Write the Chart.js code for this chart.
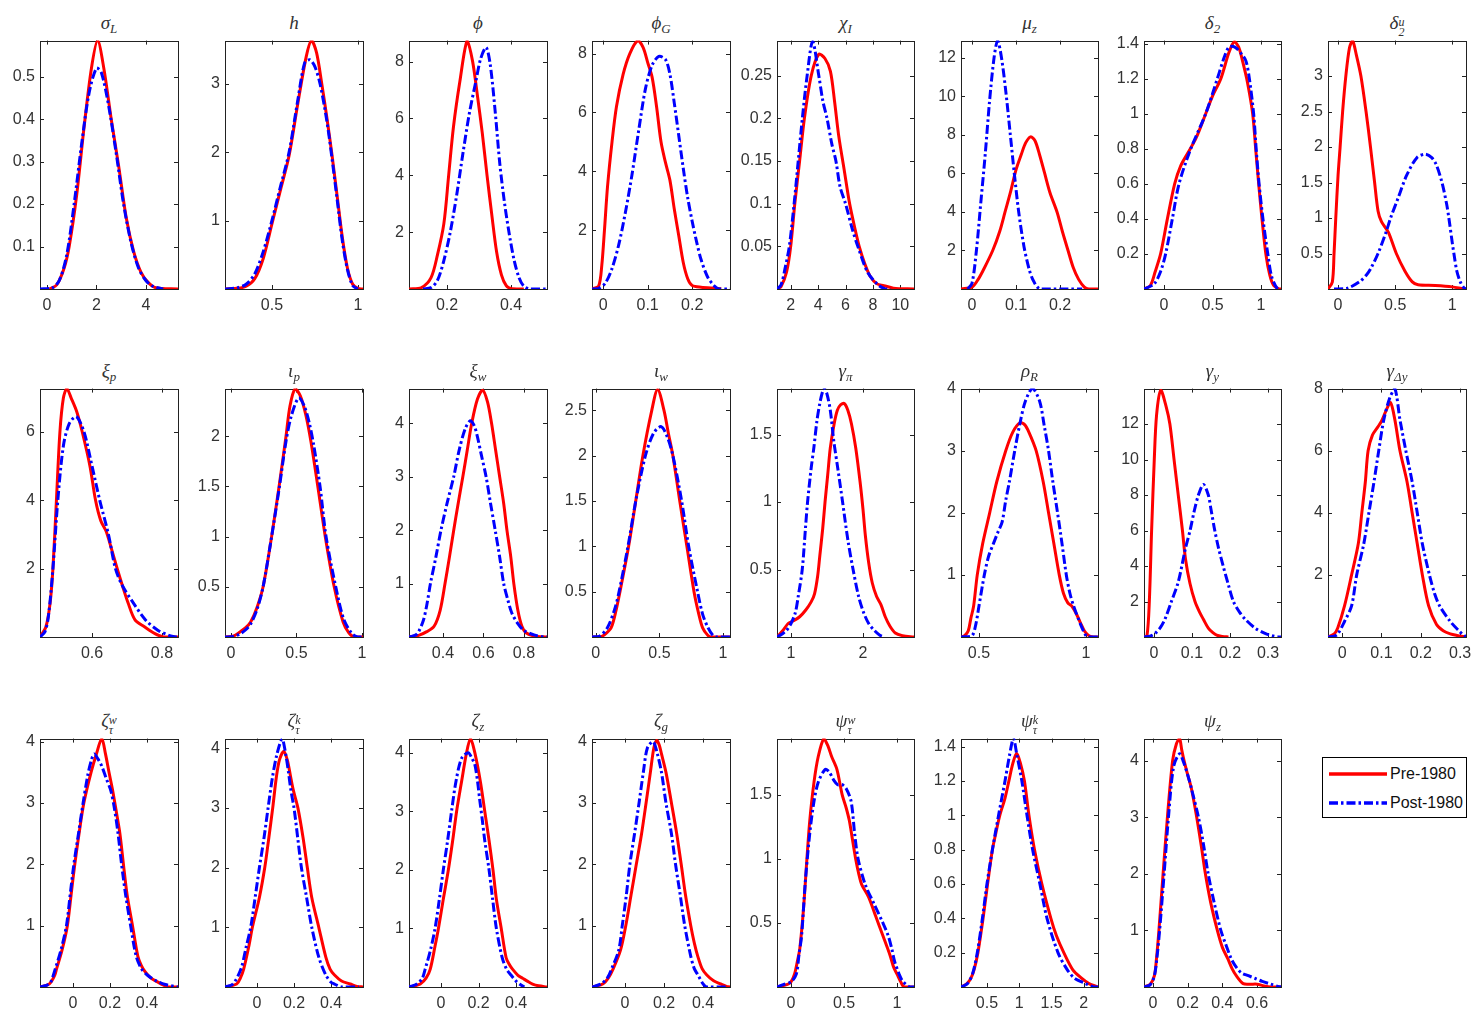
<!DOCTYPE html>
<html>
<head>
<meta charset="utf-8">
<script src="https://cdn.jsdelivr.net/npm/chart.js@4.4.1/dist/chart.umd.min.js"></script>
<style>
body { margin: 0; background: #fff; width: 1472px; height: 1016px; position: relative; overflow: hidden; }
.cell { position: absolute; }
.ttl { position: absolute; font-family: "Liberation Serif", "DejaVu Serif", serif; font-style: italic; font-size: 19px; color: #333; text-align: center; white-space: nowrap; line-height: 19px; }
.ttl sub { font-size: 13px; vertical-align: -4px; line-height: 0; }
.ss { display: inline-block; font-size: 12px; line-height: 10px; vertical-align: -7px; text-align: left; }
.ss span { display: block; }
#legend { position: absolute; left: 1322px; top: 757px; width: 143px; height: 59px; border: 1px solid #000; background: #fff; font-family: "Liberation Sans", Arial, sans-serif; font-size: 16px; color: #111; }
#legend svg { position: absolute; left: 6px; }
#legend span { position: absolute; left: 67px; line-height: 18px; }
</style>
</head>
<body>
<div id="legend">
  <svg style="top:13px" width="58" height="6"><line x1="0" y1="3" x2="58" y2="3" stroke="#f00" stroke-width="3.5"/></svg>
  <span style="top:7px">Pre-1980</span>
  <svg style="top:42px" width="58" height="6"><line x1="0" y1="3" x2="58" y2="3" stroke="#00f" stroke-width="3.5" stroke-dasharray="9,3,2.5,3"/></svg>
  <span style="top:36px">Post-1980</span>
</div>
<script>
// posterior densities, [x, y]; "pre" = Pre-1980, "post" = Post-1980
const sigL_pre = [[0.1,0],[0.4,0.01],[0.7,0.05],[0.9,0.1],[1.2,0.22],[1.5,0.38],[1.8,0.52],[2.05,0.585],[2.3,0.52],[2.6,0.4],[2.9,0.29],[3.2,0.17],[3.5,0.09],[3.8,0.04],[4.1,0.015],[4.4,0.003],[5.3,0]];
const sigL_post = [[-0.28,0],[0.2,0.002],[0.5,0.02],[0.8,0.08],[1.1,0.2],[1.4,0.34],[1.7,0.46],[2.0,0.52],[2.2,0.51],[2.5,0.43],[2.8,0.32],[3.1,0.2],[3.4,0.11],[3.7,0.05],[4.0,0.02],[4.3,0.006],[4.7,0]];
const sigL_xt = [0, 2, 4], sigL_yt = [0.1, 0.2, 0.3, 0.4, 0.5];

const h_pre = [[0.227,0],[0.3,0.01],[0.35,0.04],[0.4,0.15],[0.45,0.45],[0.5,0.95],[0.55,1.45],[0.6,1.95],[0.65,2.7],[0.7,3.4],[0.73,3.63],[0.76,3.45],[0.79,3.0],[0.82,2.5],[0.85,1.95],[0.88,1.35],[0.91,0.75],[0.94,0.3],[0.97,0.07],[1.0,0.01],[1.03,0]];
const h_post = [[0.227,0],[0.3,0.02],[0.35,0.07],[0.4,0.22],[0.45,0.55],[0.5,1.0],[0.55,1.5],[0.6,2.0],[0.65,2.75],[0.69,3.3],[0.72,3.35],[0.75,3.25],[0.78,3.0],[0.82,2.45],[0.85,1.9],[0.88,1.3],[0.91,0.7],[0.94,0.28],[0.97,0.05],[1.0,0]];
const h_xt = [0.5, 1], h_yt = [1, 2, 3];

const phi_pre = [[0.081,0],[0.12,0.05],[0.15,0.4],[0.17,1.2],[0.19,2.3],[0.205,4.0],[0.22,5.7],[0.24,7.3],[0.263,8.74],[0.28,8.0],[0.295,6.8],[0.31,5.5],[0.325,4.0],[0.34,2.6],[0.355,1.3],[0.37,0.5],[0.385,0.12],[0.4,0.02],[0.44,0]];
const phi_post = [[0.125,0],[0.15,0.05],[0.17,0.3],[0.19,1.0],[0.21,2.0],[0.23,3.3],[0.25,4.8],[0.27,6.2],[0.29,7.3],[0.305,8.1],[0.322,8.5],[0.335,7.9],[0.35,6.3],[0.365,4.4],[0.38,3.0],[0.395,1.9],[0.41,1.0],[0.425,0.4],[0.44,0.1],[0.46,0],[0.5125,0]];
const phi_xt = [0.2, 0.4], phi_yt = [2, 4, 6, 8];

const phiG_pre = [[-0.025,0],[-0.01,0.1],[-0.003,0.8],[0.003,2.0],[0.01,3.5],[0.02,5.0],[0.03,6.2],[0.045,7.3],[0.06,8.0],[0.078,8.44],[0.09,8.2],[0.1,7.7],[0.11,7.2],[0.12,6.2],[0.13,5.0],[0.14,4.3],[0.15,3.7],[0.16,2.7],[0.17,1.8],[0.18,0.9],[0.19,0.35],[0.2,0.12],[0.22,0.06],[0.26,0.02],[0.265,0]];
const phiG_post = [[-0.025,0],[-0.01,0.02],[0.005,0.2],[0.02,0.7],[0.035,1.5],[0.05,2.6],[0.065,3.9],[0.08,5.4],[0.095,6.8],[0.11,7.6],[0.125,7.9],[0.14,7.8],[0.15,7.3],[0.16,6.3],[0.17,5.2],[0.18,4.1],[0.19,3.1],[0.2,2.3],[0.21,1.6],[0.22,1.0],[0.235,0.4],[0.25,0.1],[0.26,0],[0.285,0]];
const phiG_xt = [0, 0.1, 0.2], phiG_yt = [2, 4, 6, 8];

const chiI_pre = [[1,0],[1.3,0.003],[1.7,0.02],[2.0,0.05],[2.3,0.1],[2.65,0.15],[3.0,0.2],[3.5,0.25],[4.05,0.275],[4.5,0.27],[4.9,0.255],[5.2,0.22],[5.5,0.18],[5.9,0.14],[6.3,0.1],[6.7,0.07],[7.0,0.05],[7.4,0.03],[7.8,0.015],[8.3,0.006],[8.8,0.004],[9.5,0.001],[11,0]];
const chiI_post = [[1,0],[1.3,0.005],[1.6,0.025],[1.9,0.05],[2.25,0.1],[2.55,0.15],[2.85,0.2],[3.2,0.25],[3.6,0.29],[4.05,0.25],[4.35,0.22],[4.65,0.2],[5.0,0.17],[5.3,0.15],[5.6,0.12],[6.0,0.1],[6.5,0.07],[6.9,0.05],[7.6,0.02],[8.3,0.006],[8.9,0],[9.3,0]];
const chiI_xt = [2, 4, 6, 8, 10], chiI_yt = [0.05, 0.1, 0.15, 0.2, 0.25];

const muZ_pre = [[-0.025,0],[0,0.1],[0.014,0.5],[0.026,1.0],[0.047,2.0],[0.063,3.0],[0.075,4.0],[0.087,5.0],[0.1,6.2],[0.112,7.0],[0.122,7.6],[0.133,7.9],[0.143,7.7],[0.153,7.0],[0.165,6.0],[0.177,5.0],[0.193,4.0],[0.205,3.0],[0.218,2.0],[0.23,1.1],[0.242,0.5],[0.255,0.1],[0.265,0],[0.286,0]];
const muZ_post = [[-0.01,0],[0,0.3],[0.01,2.0],[0.02,4.5],[0.03,7.0],[0.04,9.8],[0.05,12.0],[0.058,12.9],[0.067,12.0],[0.077,10.2],[0.087,8.0],[0.096,6.0],[0.106,4.0],[0.118,2.2],[0.13,1.0],[0.14,0.4],[0.155,0],[0.25,0]];
const muZ_xt = [0, 0.1, 0.2], muZ_yt = [2, 4, 6, 8, 10, 12];

const del2_pre = [[-0.206,0],[-0.14,0.02],[-0.09,0.1],[-0.035,0.2],[0.035,0.4],[0.11,0.6],[0.17,0.7],[0.25,0.78],[0.33,0.86],[0.43,1.0],[0.5,1.1],[0.586,1.2],[0.67,1.35],[0.724,1.41],[0.77,1.38],[0.81,1.3],[0.86,1.18],[0.914,1.0],[0.945,0.8],[0.976,0.6],[1.01,0.4],[1.05,0.2],[1.09,0.08],[1.13,0.02],[1.19,0],[1.206,0]];
const del2_post = [[-0.206,0],[-0.1,0.03],[-0.035,0.1],[0.017,0.2],[0.086,0.4],[0.155,0.6],[0.276,0.8],[0.43,1.0],[0.55,1.2],[0.62,1.32],[0.67,1.38],[0.73,1.38],[0.8,1.34],[0.845,1.3],[0.88,1.2],[0.924,1.0],[0.95,0.8],[0.98,0.6],[1.02,0.4],[1.07,0.2],[1.11,0.07],[1.17,0],[1.206,0]];
const del2_xt = [0, 0.5, 1], del2_yt = [0.2, 0.4, 0.6, 0.8, 1, 1.2, 1.4];

const del2u_pre = [[-0.088,0],[-0.05,0.1],[-0.035,0.5],[-0.02,1.0],[0,1.6],[0.018,2.0],[0.04,2.5],[0.068,3.0],[0.1,3.4],[0.127,3.5],[0.16,3.3],[0.2,3.0],[0.245,2.5],[0.284,2.0],[0.32,1.5],[0.35,1.1],[0.38,0.95],[0.44,0.8],[0.51,0.5],[0.586,0.25],[0.65,0.1],[0.7,0.06],[0.85,0.05],[1.0,0.03],[1.1,0],[1.12,0]];
const del2u_post = [[-0.035,0],[0.08,0.01],[0.186,0.1],[0.25,0.2],[0.29,0.3],[0.35,0.5],[0.42,0.8],[0.46,1.0],[0.53,1.3],[0.6,1.6],[0.69,1.85],[0.763,1.9],[0.82,1.85],[0.86,1.75],[0.91,1.5],[0.95,1.2],[0.97,1.0],[1.0,0.65],[1.014,0.5],[1.04,0.25],[1.07,0.1],[1.1,0.02],[1.12,0]];
const del2u_xt = [0, 0.5, 1], del2u_yt = [0.5, 1, 1.5, 2, 2.5, 3];

const xiP_pre = [[0.451,0],[0.468,0.3],[0.48,1.0],[0.488,2.0],[0.498,4.0],[0.508,6.0],[0.518,7.0],[0.528,7.27],[0.54,7.0],[0.556,6.6],[0.572,6.0],[0.594,5.0],[0.61,4.0],[0.625,3.4],[0.64,3.1],[0.655,2.6],[0.672,2.0],[0.687,1.5],[0.703,1.0],[0.723,0.5],[0.75,0.3],[0.78,0.1],[0.805,0],[0.846,0]];
const xiP_post = [[0.451,0],[0.465,0.15],[0.475,0.6],[0.488,2.0],[0.502,4.0],[0.518,5.6],[0.535,6.25],[0.555,6.45],[0.577,6.0],[0.6,5.0],[0.622,4.0],[0.647,3.0],[0.667,2.0],[0.687,1.5],[0.718,1.0],[0.753,0.5],[0.788,0.2],[0.82,0.05],[0.84,0],[0.846,0]];
const xiP_xt = [0.6, 0.8], xiP_yt = [2, 4, 6];

const iotaP_pre = [[-0.046,0],[0.02,0.01],[0.068,0.05],[0.11,0.09],[0.15,0.15],[0.2,0.3],[0.245,0.5],[0.31,1.0],[0.367,1.5],[0.42,2.0],[0.45,2.3],[0.49,2.475],[0.53,2.4],[0.57,2.22],[0.61,1.95],[0.663,1.5],[0.72,1.0],[0.788,0.5],[0.856,0.15],[0.9,0.04],[0.94,0],[1.008,0]];
const iotaP_post = [[-0.046,0],[0.02,0.005],[0.068,0.03],[0.11,0.07],[0.15,0.13],[0.2,0.28],[0.245,0.5],[0.31,1.0],[0.37,1.5],[0.42,1.95],[0.46,2.2],[0.516,2.38],[0.56,2.3],[0.6,2.12],[0.633,1.9],[0.68,1.5],[0.726,1.0],[0.8,0.5],[0.86,0.18],[0.92,0.04],[0.965,0],[1.008,0]];
const iotaP_xt = [0, 0.5, 1], iotaP_yt = [0.5, 1, 1.5, 2];

const xiW_pre = [[0.232,0],[0.28,0.03],[0.32,0.1],[0.356,0.2],[0.386,0.5],[0.41,1.0],[0.432,1.5],[0.453,2.0],[0.475,2.5],[0.498,3.0],[0.52,3.5],[0.542,4.0],[0.57,4.45],[0.596,4.62],[0.62,4.4],[0.64,4.0],[0.66,3.5],[0.68,3.0],[0.7,2.5],[0.716,2.0],[0.735,1.5],[0.75,1.0],[0.77,0.5],[0.79,0.2],[0.81,0.08],[0.85,0.02],[0.914,0]];
const xiW_post = [[0.232,0],[0.27,0.05],[0.302,0.3],[0.32,0.6],[0.338,1.0],[0.365,1.5],[0.39,2.0],[0.42,2.5],[0.453,3.0],[0.48,3.5],[0.51,3.9],[0.535,4.05],[0.555,3.95],[0.57,3.75],[0.59,3.4],[0.613,3.0],[0.635,2.5],[0.658,2.0],[0.68,1.5],[0.7,1.0],[0.72,0.7],[0.74,0.45],[0.77,0.25],[0.8,0.12],[0.85,0.04],[0.9,0],[0.914,0]];
const xiW_xt = [0.4, 0.6, 0.8], xiW_yt = [1, 2, 3, 4];

const iotaW_pre = [[-0.03,0],[0.03,0],[0.064,0.02],[0.12,0.1],[0.16,0.3],[0.19,0.5],[0.258,1.0],[0.314,1.5],[0.37,2.0],[0.44,2.5],[0.486,2.73],[0.536,2.5],[0.57,2.25],[0.606,2.0],[0.66,1.5],[0.716,1.0],[0.772,0.5],[0.81,0.25],[0.84,0.1],[0.88,0.02],[0.91,0],[1.055,0]];
const iotaW_post = [[-0.03,0],[0.03,0.01],[0.09,0.1],[0.147,0.3],[0.183,0.5],[0.253,1.0],[0.314,1.5],[0.39,2.0],[0.455,2.25],[0.514,2.32],[0.564,2.2],[0.606,2.0],[0.675,1.5],[0.73,1.0],[0.8,0.5],[0.84,0.25],[0.883,0.1],[0.92,0.02],[0.95,0],[1.055,0]];
const iotaW_xt = [0, 0.5, 1], iotaW_yt = [0.5, 1, 1.5, 2, 2.5];

const gPi_pre = [[0.805,0],[0.89,0.05],[0.96,0.1],[1.034,0.12],[1.12,0.15],[1.205,0.2],[1.28,0.26],[1.327,0.32],[1.37,0.45],[1.4,0.6],[1.44,0.8],[1.473,1.0],[1.51,1.2],[1.546,1.4],[1.6,1.58],[1.644,1.68],[1.69,1.72],[1.74,1.73],[1.79,1.68],[1.84,1.58],[1.9,1.4],[1.96,1.15],[2.0,0.95],[2.034,0.75],[2.08,0.55],[2.13,0.4],[2.19,0.3],[2.25,0.24],[2.31,0.15],[2.376,0.08],[2.45,0.03],[2.55,0.01],[2.71,0]];
const gPi_post = [[0.805,0],[0.87,0.02],[0.94,0.05],[1.0,0.1],[1.06,0.18],[1.1,0.3],[1.156,0.5],[1.2,0.8],[1.23,1.0],[1.28,1.25],[1.317,1.4],[1.36,1.6],[1.4,1.73],[1.44,1.82],[1.463,1.84],[1.5,1.8],[1.546,1.68],[1.595,1.45],[1.65,1.25],[1.717,1.0],[1.79,0.72],[1.863,0.5],[1.94,0.3],[2.01,0.18],[2.08,0.1],[2.156,0.05],[2.23,0.015],[2.3,0]];
const gPi_xt = [1, 2], gPi_yt = [0.5, 1, 1.5];

const rhoR_pre = [[0.416,0],[0.433,0.02],[0.45,0.1],[0.462,0.3],[0.475,0.5],[0.492,1.0],[0.517,1.5],[0.55,2.0],[0.583,2.5],[0.625,3.0],[0.658,3.3],[0.692,3.45],[0.713,3.42],[0.733,3.3],[0.767,3.0],[0.8,2.5],[0.825,2.0],[0.85,1.5],[0.875,1.0],[0.895,0.7],[0.915,0.55],[0.933,0.5],[0.958,0.35],[0.975,0.22],[0.992,0.1],[1.01,0.03],[1.033,0],[1.056,0]];
const rhoR_post = [[0.416,0],[0.467,0.02],[0.485,0.2],[0.5,0.5],[0.525,1.0],[0.545,1.3],[0.567,1.5],[0.59,1.7],[0.608,1.85],[0.625,2.2],[0.642,2.5],[0.667,3.0],[0.692,3.45],[0.717,3.8],[0.75,4.0],[0.783,3.8],[0.805,3.4],[0.825,3.0],[0.845,2.5],[0.867,2.0],[0.888,1.5],[0.908,1.0],[0.925,0.7],[0.942,0.5],[0.975,0.2],[0.995,0.05],[1.008,0],[1.056,0]];
const rhoR_xt = [0.5, 1], rhoR_yt = [1, 2, 3, 4];

const gY_pre = [[-0.026,0],[-0.018,0.1],[-0.012,2.0],[-0.006,6.0],[0.001,10.0],[0.007,12.5],[0.018,13.9],[0.032,13.0],[0.042,12.0],[0.053,10.0],[0.064,8.0],[0.075,6.0],[0.083,4.4],[0.095,3.0],[0.108,2.0],[0.12,1.4],[0.13,1.0],[0.143,0.5],[0.155,0.25],[0.165,0.1],[0.18,0.03],[0.196,0]];
const gY_post = [[-0.026,0],[-0.01,0.05],[0.003,0.2],[0.016,0.5],[0.029,1.0],[0.046,2.0],[0.064,3.1],[0.083,5.0],[0.095,6.0],[0.106,7.1],[0.117,8.0],[0.13,8.6],[0.143,8.0],[0.15,7.2],[0.16,6.0],[0.17,5.0],[0.182,4.0],[0.195,3.0],[0.209,2.0],[0.225,1.4],[0.24,1.0],[0.266,0.5],[0.292,0.2],[0.31,0.08],[0.327,0],[0.334,0]];
const gY_xt = [0, 0.1, 0.2, 0.3], gY_yt = [2, 4, 6, 8, 10, 12];

const gDY_pre = [[-0.036,0],[-0.02,0.1],[-0.011,0.3],[0.006,1.0],[0.024,2.0],[0.041,3.0],[0.05,4.0],[0.059,5.0],[0.066,6.0],[0.077,6.5],[0.09,6.75],[0.1,6.95],[0.112,7.3],[0.123,7.55],[0.134,7.0],[0.147,6.0],[0.165,5.0],[0.178,4.0],[0.191,3.0],[0.204,2.0],[0.22,1.0],[0.24,0.4],[0.257,0.2],[0.275,0.1],[0.292,0.05],[0.315,0]];
const gDY_post = [[-0.036,0],[-0.02,0.03],[-0.011,0.1],[0.006,0.5],[0.024,1.0],[0.037,2.0],[0.055,3.0],[0.068,4.0],[0.081,5.0],[0.093,6.0],[0.106,7.0],[0.121,7.7],[0.134,8.0],[0.147,7.0],[0.162,6.0],[0.178,5.0],[0.191,4.0],[0.204,3.0],[0.222,2.0],[0.235,1.4],[0.248,1.0],[0.275,0.5],[0.297,0.2],[0.31,0.05],[0.315,0.02]];
const gDY_xt = [0, 0.1, 0.2, 0.3], gDY_yt = [2, 4, 6, 8];

const zTw_pre = [[-0.178,0],[-0.127,0.05],[-0.1,0.18],[-0.088,0.3],[-0.059,0.6],[-0.03,1.0],[-0.01,1.5],[0.01,2.0],[0.033,2.5],[0.059,3.0],[0.098,3.5],[0.127,3.8],[0.156,4.05],[0.176,3.8],[0.195,3.5],[0.215,3.2],[0.235,2.85],[0.254,2.5],[0.273,2.0],[0.293,1.5],[0.322,1.0],[0.351,0.5],[0.37,0.35],[0.39,0.25],[0.42,0.15],[0.459,0.08],[0.49,0.03],[0.517,0],[0.568,0]];
const zTw_post = [[-0.178,0],[-0.14,0.03],[-0.12,0.08],[-0.095,0.3],[-0.065,0.6],[-0.035,1.0],[-0.015,1.5],[0.005,2.0],[0.03,2.5],[0.055,3.0],[0.08,3.45],[0.1,3.7],[0.115,3.8],[0.135,3.72],[0.156,3.6],[0.18,3.4],[0.205,3.2],[0.225,2.9],[0.244,2.5],[0.263,2.0],[0.285,1.5],[0.312,1.0],[0.342,0.5],[0.37,0.3],[0.4,0.2],[0.45,0.1],[0.5,0.04],[0.55,0.01],[0.568,0]];
const zTw_xt = [0, 0.2, 0.4], zTw_yt = [1, 2, 3, 4];

const zTk_pre = [[-0.173,0],[-0.11,0.05],[-0.09,0.15],[-0.072,0.3],[-0.043,0.7],[-0.025,1.0],[0.013,1.5],[0.042,2.0],[0.064,2.5],[0.085,3.0],[0.104,3.5],[0.121,3.8],[0.145,3.95],[0.164,3.8],[0.18,3.55],[0.196,3.3],[0.221,3.0],[0.249,2.5],[0.272,2.0],[0.296,1.5],[0.334,1.0],[0.372,0.5],[0.395,0.3],[0.419,0.2],[0.457,0.1],[0.504,0.05],[0.54,0.01],[0.573,0]];
const zTk_post = [[-0.173,0],[-0.13,0.05],[-0.087,0.3],[-0.06,0.65],[-0.034,1.0],[-0.01,1.5],[0.013,2.0],[0.038,2.5],[0.06,3.0],[0.083,3.5],[0.108,3.9],[0.136,4.15],[0.155,3.9],[0.17,3.6],[0.183,3.3],[0.2,3.0],[0.22,2.5],[0.24,2.0],[0.268,1.5],[0.296,1.0],[0.334,0.5],[0.372,0.2],[0.4,0.08],[0.419,0.05],[0.457,0],[0.55,0]];
const zTk_xt = [0, 0.2, 0.4], zTk_yt = [1, 2, 3, 4];

const zZ_pre = [[-0.171,0],[-0.14,0.02],[-0.111,0.05],[-0.08,0.15],[-0.058,0.3],[-0.032,0.7],[-0.014,1.0],[0.012,1.5],[0.039,2.0],[0.062,2.5],[0.083,3.0],[0.109,3.5],[0.136,4.0],[0.157,4.24],[0.18,4.0],[0.21,3.5],[0.233,3.0],[0.256,2.5],[0.277,2.0],[0.295,1.5],[0.321,1.0],[0.347,0.5],[0.365,0.38],[0.382,0.3],[0.41,0.2],[0.435,0.15],[0.46,0.1],[0.488,0.05],[0.52,0.02],[0.565,0]];
const zZ_post = [[-0.171,0],[-0.129,0.05],[-0.1,0.15],[-0.085,0.3],[-0.055,0.65],[-0.032,1.0],[-0.009,1.5],[0.012,2.0],[0.035,2.5],[0.056,3.0],[0.079,3.5],[0.109,3.9],[0.145,4.0],[0.165,3.9],[0.18,3.8],[0.195,3.5],[0.206,3.2],[0.22,2.85],[0.233,2.5],[0.256,2.0],[0.275,1.5],[0.295,1.0],[0.326,0.5],[0.35,0.3],[0.374,0.2],[0.4,0.1],[0.418,0.05],[0.444,0]];
const zZ_xt = [0, 0.2, 0.4], zZ_yt = [1, 2, 3, 4];

const zG_pre = [[-0.169,0],[-0.114,0.05],[-0.085,0.15],[-0.06,0.3],[-0.023,0.6],[0.004,1.0],[0.031,1.5],[0.058,2.0],[0.085,2.5],[0.108,3.0],[0.13,3.5],[0.148,3.9],[0.162,4.02],[0.175,3.95],[0.187,3.8],[0.21,3.5],[0.238,3.0],[0.265,2.5],[0.288,2.0],[0.31,1.5],[0.337,1.0],[0.355,0.72],[0.373,0.5],[0.395,0.3],[0.418,0.2],[0.454,0.1],[0.49,0.05],[0.52,0.01],[0.538,0]];
const zG_post = [[-0.169,0],[-0.123,0.05],[-0.09,0.15],[-0.068,0.3],[-0.032,0.6],[-0.014,1.0],[0.007,1.5],[0.025,2.0],[0.049,2.5],[0.072,3.0],[0.094,3.5],[0.115,3.9],[0.144,4.0],[0.166,3.8],[0.187,3.5],[0.21,3.0],[0.238,2.5],[0.259,2.0],[0.283,1.5],[0.306,1.0],[0.337,0.5],[0.355,0.3],[0.373,0.2],[0.4,0.05],[0.418,0],[0.52,0]];
const zG_xt = [0, 0.2, 0.4], zG_yt = [1, 2, 3, 4];

const psiTw_pre = [[-0.132,0],[-0.033,0.02],[0,0.04],[0.033,0.1],[0.06,0.2],[0.083,0.3],[0.117,0.6],[0.15,1.0],[0.177,1.3],[0.217,1.6],[0.257,1.8],[0.31,1.94],[0.35,1.88],[0.383,1.8],[0.433,1.7],[0.483,1.5],[0.52,1.4],[0.55,1.3],[0.58,1.15],[0.61,1.0],[0.64,0.88],[0.667,0.8],[0.733,0.7],[0.8,0.55],[0.867,0.4],[0.933,0.25],[0.97,0.15],[1.0,0.1],[1.035,0.04],[1.067,0],[1.16,0]];
const psiTw_post = [[-0.132,0],[-0.067,0.02],[0,0.04],[0.05,0.1],[0.075,0.25],[0.1,0.4],[0.133,0.8],[0.177,1.2],[0.217,1.45],[0.257,1.6],[0.323,1.7],[0.36,1.68],[0.4,1.62],[0.44,1.58],[0.483,1.58],[0.52,1.55],[0.567,1.45],[0.6,1.2],[0.633,1.0],[0.7,0.8],[0.783,0.65],[0.867,0.5],[0.917,0.4],[0.95,0.3],[0.977,0.2],[1.02,0.1],[1.05,0.05],[1.117,0],[1.16,0]];
const psiTw_xt = [0, 0.5, 1], psiTw_yt = [0.5, 1, 1.5];

const psiTk_pre = [[0.098,0],[0.19,0.02],[0.25,0.05],[0.3,0.1],[0.36,0.2],[0.44,0.4],[0.51,0.6],[0.585,0.8],[0.64,0.9],[0.7,1.0],[0.78,1.1],[0.84,1.2],[0.9,1.3],[0.96,1.36],[1.02,1.3],[1.08,1.2],[1.15,1.0],[1.236,0.8],[1.35,0.6],[1.49,0.4],[1.575,0.3],[1.69,0.2],[1.83,0.1],[1.97,0.05],[2.08,0.02],[2.22,0]];
const psiTk_post = [[0.098,0],[0.2,0.02],[0.28,0.08],[0.35,0.2],[0.43,0.4],[0.5,0.6],[0.585,0.8],[0.68,1.0],[0.78,1.2],[0.85,1.35],[0.91,1.446],[0.964,1.35],[1.04,1.2],[1.12,1.0],[1.207,0.8],[1.32,0.6],[1.43,0.4],[1.6,0.2],[1.745,0.1],[1.86,0.05],[2.03,0.02],[2.15,0],[2.22,0]];
const psiTk_xt = [0.5, 1, 1.5, 2], psiTk_yt = [0.2, 0.4, 0.6, 0.8, 1, 1.2, 1.4];

const psiZ_pre = [[-0.052,0],[-0.016,0.05],[0.008,0.2],[0.02,0.5],[0.034,1.0],[0.058,2.0],[0.083,3.0],[0.113,4.0],[0.135,4.3],[0.153,4.39],[0.165,4.2],[0.179,4.0],[0.2,3.75],[0.222,3.5],[0.252,3.0],[0.278,2.5],[0.302,2.0],[0.332,1.5],[0.371,1.0],[0.4,0.7],[0.431,0.5],[0.455,0.33],[0.48,0.2],[0.52,0.06],[0.56,0.05],[0.6,0.05],[0.64,0.02],[0.68,0],[0.738,0]];
const psiZ_post = [[-0.052,0],[-0.016,0.04],[0.008,0.2],[0.022,0.5],[0.038,1.0],[0.064,2.0],[0.089,3.0],[0.119,3.9],[0.153,4.12],[0.173,4.0],[0.2,3.75],[0.222,3.5],[0.262,3.0],[0.292,2.5],[0.318,2.0],[0.352,1.5],[0.391,1.0],[0.42,0.75],[0.451,0.5],[0.48,0.35],[0.51,0.25],[0.55,0.2],[0.59,0.15],[0.63,0.1],[0.68,0.05],[0.72,0.01],[0.738,0]];
const psiZ_xt = [0, 0.2, 0.4, 0.6], psiZ_yt = [1, 2, 3, 4];

// panel table: title, series, tick labels, axis limits
const panels = [
  { t: 'σ<sub>L</sub>', pre: sigL_pre, post: sigL_post, xt: sigL_xt, yt: sigL_yt, x: [-0.28, 5.3], ymax: 0.585 },
  { t: 'h', pre: h_pre, post: h_post, xt: h_xt, yt: h_yt, x: [0.227, 1.03], ymax: 3.63 },
  { t: 'ϕ', pre: phi_pre, post: phi_post, xt: phi_xt, yt: phi_yt, x: [0.081, 0.5125], ymax: 8.74 },
  { t: 'ϕ<sub>G</sub>', pre: phiG_pre, post: phiG_post, xt: phiG_xt, yt: phiG_yt, x: [-0.025, 0.285], ymax: 8.44 },
  { t: 'χ<sub>I</sub>', pre: chiI_pre, post: chiI_post, xt: chiI_xt, yt: chiI_yt, x: [1, 11], ymax: 0.291 },
  { t: 'μ<sub>z</sub>', pre: muZ_pre, post: muZ_post, xt: muZ_xt, yt: muZ_yt, x: [-0.025, 0.286], ymax: 12.9 },
  { t: 'δ<sub>2</sub>', pre: del2_pre, post: del2_post, xt: del2_xt, yt: del2_yt, x: [-0.206, 1.206], ymax: 1.417 },
  { t: 'δ<span class="ss"><span>u</span><span>2</span></span>', pre: del2u_pre, post: del2u_post, xt: del2u_xt, yt: del2u_yt, x: [-0.088, 1.12], ymax: 3.5 },
  { t: 'ξ<sub>p</sub>', pre: xiP_pre, post: xiP_post, xt: xiP_xt, yt: xiP_yt, x: [0.451, 0.846], ymax: 7.27 },
  { t: 'ι<sub>p</sub>', pre: iotaP_pre, post: iotaP_post, xt: iotaP_xt, yt: iotaP_yt, x: [-0.046, 1.008], ymax: 2.475 },
  { t: 'ξ<sub>w</sub>', pre: xiW_pre, post: xiW_post, xt: xiW_xt, yt: xiW_yt, x: [0.232, 0.914], ymax: 4.65 },
  { t: 'ι<sub>w</sub>', pre: iotaW_pre, post: iotaW_post, xt: iotaW_xt, yt: iotaW_yt, x: [-0.03, 1.055], ymax: 2.74 },
  { t: 'γ<sub>π</sub>', pre: gPi_pre, post: gPi_post, xt: gPi_xt, yt: gPi_yt, x: [0.805, 2.71], ymax: 1.84 },
  { t: 'ρ<sub>R</sub>', pre: rhoR_pre, post: rhoR_post, xt: rhoR_xt, yt: rhoR_yt, x: [0.416, 1.056], ymax: 4.0 },
  { t: 'γ<sub>y</sub>', pre: gY_pre, post: gY_post, xt: gY_xt, yt: gY_yt, x: [-0.026, 0.334], ymax: 14 },
  { t: 'γ<sub>Δy</sub>', pre: gDY_pre, post: gDY_post, xt: gDY_xt, yt: gDY_yt, x: [-0.036, 0.315], ymax: 8.0 },
  { t: 'ζ<span class="ss"><span>w</span><span>τ</span></span>', pre: zTw_pre, post: zTw_post, xt: zTw_xt, yt: zTw_yt, x: [-0.178, 0.568], ymax: 4.05 },
  { t: 'ζ<span class="ss"><span>k</span><span>τ</span></span>', pre: zTk_pre, post: zTk_post, xt: zTk_xt, yt: zTk_yt, x: [-0.173, 0.573], ymax: 4.16 },
  { t: 'ζ<sub>z</sub>', pre: zZ_pre, post: zZ_post, xt: zZ_xt, yt: zZ_yt, x: [-0.171, 0.565], ymax: 4.24 },
  { t: 'ζ<sub>g</sub>', pre: zG_pre, post: zG_post, xt: zG_xt, yt: zG_yt, x: [-0.169, 0.538], ymax: 4.05 },
  { t: 'ψ<span class="ss"><span>w</span><span>τ</span></span>', pre: psiTw_pre, post: psiTw_post, xt: psiTw_xt, yt: psiTw_yt, x: [-0.132, 1.16], ymax: 1.94 },
  { t: 'ψ<span class="ss"><span>k</span><span>τ</span></span>', pre: psiTk_pre, post: psiTk_post, xt: psiTk_xt, yt: psiTk_yt, x: [0.098, 2.22], ymax: 1.446 },
  { t: 'ψ<sub>z</sub>', pre: psiZ_pre, post: psiZ_post, xt: psiZ_xt, yt: psiZ_yt, x: [-0.052, 0.738], ymax: 4.39 }
];

// grid of axes boxes
const colLeft = [40, 225, 409, 592, 777, 961, 1144, 1328];
const colWidth = [138, 138, 138, 138, 137, 137, 137, 138];
const rowTop = [40, 388, 738];
const boxH = 249;
const PADL = 44, PADT = 14, PADR = 14, PADB = 34;

// box around the axes with inward ticks on all four sides (matlab look)
const boxFrame = {
  id: 'boxFrame',
  beforeDatasetsDraw(chart) {
    const { ctx, chartArea: a, scales } = chart;
    const xs = scales.x, ys = scales.y, tl = 4;
    ctx.save();
    ctx.strokeStyle = '#222';
    ctx.lineWidth = 1;
    ctx.beginPath();
    xs.ticks.forEach(function (t) {
      const px = Math.round(xs.getPixelForValue(t.value)) + 0.5;
      ctx.moveTo(px, a.bottom); ctx.lineTo(px, a.bottom - tl);
      ctx.moveTo(px, a.top); ctx.lineTo(px, a.top + tl);
    });
    ys.ticks.forEach(function (t) {
      const py = Math.round(ys.getPixelForValue(t.value)) + 0.5;
      ctx.moveTo(a.left, py); ctx.lineTo(a.left + tl, py);
      ctx.moveTo(a.right, py); ctx.lineTo(a.right - tl, py);
    });
    ctx.stroke();
    ctx.strokeRect(Math.round(a.left) + 0.5, Math.round(a.top) + 0.5, Math.round(a.width), Math.round(a.height));
    ctx.restore();
  }
};

const tickFont = { family: '"Liberation Sans", Arial, sans-serif', size: 16 };
const toPts = arr => arr.map(p => ({ x: p[0], y: p[1] }));

panels.forEach(function (p, i) {
  const col = i % 8, row = Math.floor(i / 8);
  const left = colLeft[col], top = rowTop[row], w = colWidth[col];

  const ttl = document.createElement('div');
  ttl.className = 'ttl';
  ttl.style.left = left + 'px';
  ttl.style.width = w + 'px';
  ttl.style.top = (top - 27) + 'px';
  ttl.innerHTML = p.t;
  document.body.appendChild(ttl);

  const wrap = document.createElement('div');
  wrap.className = 'cell';
  wrap.style.left = (left - PADL) + 'px';
  wrap.style.top = (top - PADT) + 'px';
  wrap.style.width = (w + PADL + PADR) + 'px';
  wrap.style.height = (boxH + PADT + PADB) + 'px';
  const cv = document.createElement('canvas');
  wrap.appendChild(cv);
  document.body.appendChild(wrap);

  new Chart(cv, {
    type: 'line',
    data: {
      datasets: [
        { label: 'Pre-1980', data: toPts(p.pre), borderColor: '#ff0000', borderWidth: 3, order: 2 },
        { label: 'Post-1980', data: toPts(p.post), borderColor: '#0000ff', borderWidth: 3, borderDash: [9, 3, 2.5, 3], order: 1 }
      ]
    },
    options: {
      responsive: true,
      maintainAspectRatio: false,
      animation: false,
      layout: { padding: { left: 4, top: PADT, right: PADR, bottom: 0 } },
      elements: { point: { radius: 0 }, line: { tension: 0.3, fill: false } },
      plugins: { legend: { display: false }, tooltip: { enabled: false } },
      scales: {
        x: {
          type: 'linear', min: p.x[0], max: p.x[1],
          grid: { display: false, drawTicks: false }, border: { display: false },
          afterBuildTicks: s => { s.ticks = p.xt.map(v => ({ value: v })); },
          afterFit: s => { s.height = PADB; },
          ticks: { autoSkip: false, maxRotation: 0, padding: 7, color: '#333', font: tickFont, callback: v => String(v) }
        },
        y: {
          type: 'linear', min: 0, max: p.ymax,
          grid: { display: false, drawTicks: false }, border: { display: false },
          afterBuildTicks: s => { s.ticks = p.yt.map(v => ({ value: v })); },
          afterFit: s => { s.width = PADL - 4; },
          ticks: { autoSkip: false, padding: 5, color: '#333', font: tickFont, callback: v => String(v) }
        }
      }
    },
    plugins: [boxFrame]
  });
});
</script>
</body>
</html>
